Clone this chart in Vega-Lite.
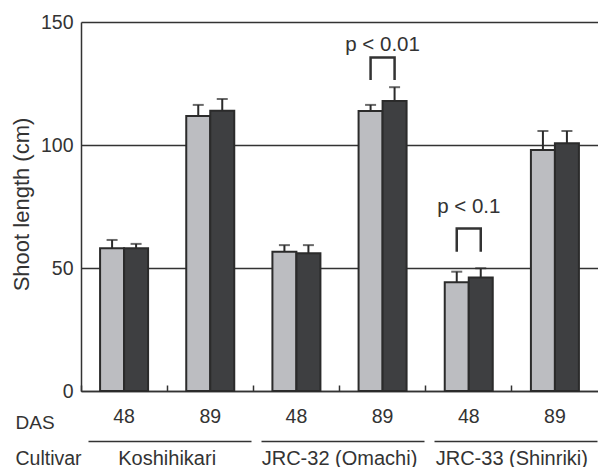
{
  "$schema": "https://vega.github.io/schema/vega-lite/v6.json",
  "width": 517,
  "height": 369,
  "autosize": {"type": "none"},
  "padding": {"left": 81, "top": 22, "right": 0, "bottom": 76},
  "background": "white",
  "config": {
    "view": {"stroke": null},
    "font": "Liberation Sans",
    "axis": {"labelFont": "Liberation Sans", "titleFont": "Liberation Sans", "labelColor": "#333", "titleColor": "#333", "titleFontWeight": "normal", "labelFontSize": 19, "titleFontSize": 19}
  },
  "datasets": {
    "bars": [
      {"cultivar": "Koshihikari", "das": "48", "slot": "Koshihikari|48", "group": "Group 1", "mean": 58.0, "upper": 61.4},
      {"cultivar": "Koshihikari", "das": "48", "slot": "Koshihikari|48", "group": "Group 2", "mean": 58.0, "upper": 59.8},
      {"cultivar": "Koshihikari", "das": "89", "slot": "Koshihikari|89", "group": "Group 1", "mean": 111.8, "upper": 116.3},
      {"cultivar": "Koshihikari", "das": "89", "slot": "Koshihikari|89", "group": "Group 2", "mean": 113.9, "upper": 118.7},
      {"cultivar": "JRC-32 (Omachi)", "das": "48", "slot": "JRC-32 (Omachi)|48", "group": "Group 1", "mean": 56.6, "upper": 59.3},
      {"cultivar": "JRC-32 (Omachi)", "das": "48", "slot": "JRC-32 (Omachi)|48", "group": "Group 2", "mean": 56.0, "upper": 59.3},
      {"cultivar": "JRC-32 (Omachi)", "das": "89", "slot": "JRC-32 (Omachi)|89", "group": "Group 1", "mean": 113.8, "upper": 116.3},
      {"cultivar": "JRC-32 (Omachi)", "das": "89", "slot": "JRC-32 (Omachi)|89", "group": "Group 2", "mean": 117.9, "upper": 123.5},
      {"cultivar": "JRC-33 (Shinriki)", "das": "48", "slot": "JRC-33 (Shinriki)|48", "group": "Group 1", "mean": 44.2, "upper": 48.5},
      {"cultivar": "JRC-33 (Shinriki)", "das": "48", "slot": "JRC-33 (Shinriki)|48", "group": "Group 2", "mean": 46.1, "upper": 49.9},
      {"cultivar": "JRC-33 (Shinriki)", "das": "89", "slot": "JRC-33 (Shinriki)|89", "group": "Group 1", "mean": 98.0, "upper": 105.7},
      {"cultivar": "JRC-33 (Shinriki)", "das": "89", "slot": "JRC-33 (Shinriki)|89", "group": "Group 2", "mean": 100.7, "upper": 105.7}
    ],
    "brackets": [
      {"bracket": "b1", "slot": "JRC-32 (Omachi)|89", "group": "Group 1", "k": 1, "v": 126.4},
      {"bracket": "b1", "slot": "JRC-32 (Omachi)|89", "group": "Group 1", "k": 2, "v": 135.6},
      {"bracket": "b1", "slot": "JRC-32 (Omachi)|89", "group": "Group 2", "k": 3, "v": 135.6},
      {"bracket": "b1", "slot": "JRC-32 (Omachi)|89", "group": "Group 2", "k": 4, "v": 126.4},
      {"bracket": "b2", "slot": "JRC-33 (Shinriki)|48", "group": "Group 1", "k": 1, "v": 56.6},
      {"bracket": "b2", "slot": "JRC-33 (Shinriki)|48", "group": "Group 1", "k": 2, "v": 66.1},
      {"bracket": "b2", "slot": "JRC-33 (Shinriki)|48", "group": "Group 2", "k": 3, "v": 66.1},
      {"bracket": "b2", "slot": "JRC-33 (Shinriki)|48", "group": "Group 2", "k": 4, "v": 56.6}
    ],
    "plabels": [
      {"slot": "JRC-32 (Omachi)|89", "v": 140.7, "label": "p < 0.01"},
      {"slot": "JRC-33 (Shinriki)|48", "v": 74.8, "label": "p < 0.1"}
    ],
    "cultivars": [
      {"cultivar": "Koshihikari"},
      {"cultivar": "JRC-32 (Omachi)"},
      {"cultivar": "JRC-33 (Shinriki)"}
    ]
  },
  "layer": [
    {
      "encoding": {
        "x": {
          "field": "slot", "type": "nominal",
          "scale": {"domain": ["Koshihikari|48", "Koshihikari|89", "JRC-32 (Omachi)|48", "JRC-32 (Omachi)|89", "JRC-33 (Shinriki)|48", "JRC-33 (Shinriki)|89"], "paddingInner": 0, "paddingOuter": 0},
          "axis": {
            "orient": "bottom", "domain": true, "domainColor": "#333", "domainWidth": 1.5,
            "ticks": true, "tickSize": -6, "tickColor": "#333", "tickWidth": 1.5, "bandPosition": 0,
            "labelExpr": "split(datum.label, '|')[1]", "labelAngle": 0, "labelPadding": 22, "labelOverlap": false,
            "labelFontSize": 19.5,
            "grid": false,
            "title": "DAS", "titleFontSize": 19, "titleX": -66, "titleY": 31, "titleAngle": 0, "titleAlign": "left", "titleBaseline": "middle"
          }
        }
      },
      "layer": [
        {
          "data": {"name": "bars"},
          "mark": {"type": "bar", "stroke": "#2b2b2b", "strokeWidth": 2},
          "encoding": {
            "xOffset": {"field": "group", "type": "nominal", "scale": {"domain": ["Group 1", "Group 2"], "paddingInner": 0, "paddingOuter": 0.795}},
            "y": {
              "field": "mean", "type": "quantitative",
              "scale": {"domain": [0, 150], "nice": false},
              "axis": {
                "values": [0, 50, 100, 150], "grid": true, "gridColor": "#333", "gridWidth": 1.5,
                "domain": true, "domainColor": "#333", "domainWidth": 1.5, "ticks": false, "labelPadding": 8,
                "labelFontSize": 19.5,
                "title": "Shoot length (cm)", "titleFontSize": 22, "titleX": -48, "titleY": 182, "titleAngle": -90, "titleAlign": "center", "titleBaseline": "bottom"
              }
            },
            "color": {"field": "group", "type": "nominal", "scale": {"domain": ["Group 1", "Group 2"], "range": ["#bcbdc1", "#3e3f41"]}, "legend": null}
          }
        },
        {
          "data": {"name": "bars"},
          "mark": {"type": "rule", "color": "#2b2b2b", "strokeWidth": 2},
          "encoding": {
            "xOffset": {"field": "group", "type": "nominal", "scale": {"domain": ["Group 1", "Group 2"], "paddingInner": 0, "paddingOuter": 0.795}},
            "y": {"field": "mean", "type": "quantitative"},
            "y2": {"field": "upper"}
          }
        },
        {
          "data": {"name": "bars"},
          "mark": {"type": "tick", "color": "#2b2b2b", "thickness": 2, "size": 11, "orient": "horizontal"},
          "encoding": {
            "xOffset": {"field": "group", "type": "nominal", "scale": {"domain": ["Group 1", "Group 2"], "paddingInner": 0, "paddingOuter": 0.795}},
            "y": {"field": "upper", "type": "quantitative"}
          }
        },
        {
          "data": {"name": "brackets"},
          "mark": {"type": "line", "color": "#333", "strokeWidth": 2.5, "strokeCap": "butt", "strokeJoin": "miter"},
          "encoding": {
            "xOffset": {"field": "group", "type": "nominal", "scale": {"domain": ["Group 1", "Group 2"], "paddingInner": 0, "paddingOuter": 0.795}},
            "y": {"field": "v", "type": "quantitative"},
            "detail": {"field": "bracket"},
            "order": {"field": "k", "type": "quantitative"}
          }
        },
        {
          "data": {"name": "plabels"},
          "mark": {"type": "text", "color": "#333", "fontSize": 20.5, "font": "Liberation Sans", "baseline": "middle", "align": "center"},
          "encoding": {
            "y": {"field": "v", "type": "quantitative"},
            "text": {"field": "label"}
          }
        }
      ]
    },
    {
      "data": {"name": "cultivars"},
      "mark": {"type": "rule", "opacity": 0},
      "encoding": {
        "x": {
          "field": "cultivar", "type": "nominal",
          "scale": {"domain": ["Koshihikari", "JRC-32 (Omachi)", "JRC-33 (Shinriki)"], "paddingInner": 0, "paddingOuter": 0},
          "axis": {
            "orient": "bottom", "offset": 50, "domain": true, "domainColor": "#333", "domainWidth": 1.5,
            "domainDash": [163, 10], "domainDashOffset": 166,
            "ticks": false, "grid": false, "labelAngle": 0, "labelPadding": 7, "labelOverlap": false,
            "labelFontSize": 20,
            "title": "Cultivar", "titleFontSize": 19.5, "titleX": -66, "titleY": 17, "titleAngle": 0, "titleAlign": "left", "titleBaseline": "middle"
          }
        }
      }
    }
  ],
  "resolve": {"scale": {"x": "independent"}, "axis": {"x": "independent"}}
}
